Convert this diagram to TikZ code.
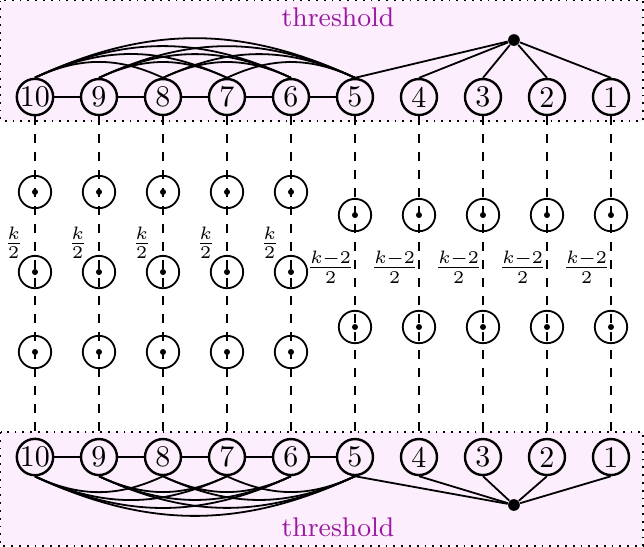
\documentclass[tikz,border=0pt]{standalone}
\usepackage{amsmath}
\usepackage{tikz}
\usetikzlibrary{positioning}

\definecolor{regionfill}{RGB}{252,238,252}
\definecolor{threshcol}{RGB}{155,25,160}

\begin{document}
\begin{tikzpicture}[
    vertex/.style={circle, draw, thick, inner sep=0pt, minimum size=12pt},
    hole/.style={circle, draw, semithick, inner sep=0pt, minimum size=10.8pt, path picture={\fill (path picture bounding box.center) circle (1pt);}},
    tdot/.style={circle, fill, inner sep=0pt, minimum size=3.9pt},
    region/.style={draw, dotted, semithick, fill=regionfill},
    link/.style={semithick},
    dline/.style={dashed, semithick},
    ttext/.style={text=threshcol, font=\small},
    lbl/.style={font=\footnotesize, inner sep=0pt}
]
\useasboundingbox (-0.41,1.137) rectangle (7.137,-5.273);

% Threshold regions
\filldraw[region] (-0.404,1.131) rectangle (7.125,-0.281);
\filldraw[region] (-0.404,-3.926) rectangle (7.125,-5.262);
\node[ttext] (toplabel) at (3.551,0.9375) {threshold};
\node[ttext] (botlabel) at (3.551,-5.039) {threshold};

% Vertices, top and bottom copies
\foreach \i in {1,...,10} {
    \node[vertex] (t\i) at ({0.75*(10-\i)},0) {\i};
    \node[vertex] (b\i) at ({0.75*(10-\i)},-4.219) {\i};
}
\node[tdot] (tth) at (5.613,0.668) {};
\node[tdot] (bth) at (5.613,-4.781) {};

% Clique on 10..5
\foreach \i in {10,9,8,7,6} {
    \pgfmathtruncatemacro{\j}{\i-1}
    \draw[link] (t\i) -- (t\j);
    \draw[link] (b\i) -- (b\j);
}
\foreach \i in {10,9,8,7} {
    \pgfmathtruncatemacro{\s}{\i-2}
    \foreach \j in {\s,...,5} {
        \draw[link] (t\i.north) to[bend left=25] (t\j.north);
        \draw[link] (b\i.south) to[bend right=25] (b\j.south);
    }
}

% Star to the threshold vertex
\foreach \i in {5,4,3,2,1} {
    \draw[link] (tth) -- (t\i.north);
    \draw[link] (bth) -- (b\i.south);
}

% Paths between the copies
\foreach \i in {10,9,8,7,6} {
    \node[hole] (h\i a) at ({0.75*(10-\i)},-1.113) {};
    \node[hole] (h\i b) at ({0.75*(10-\i)},-2.051) {};
    \node[hole] (h\i c) at ({0.75*(10-\i)},-2.988) {};
    \node[lbl] (k\i) at ({0.75*(10-\i)-0.25},-1.711) {$\frac{k}{2}$};
}
\foreach \i in {5,4,3,2,1} {
    \node[lbl] (k\i) at ({0.75*(10-\i)-0.285},-1.992) {$\frac{k-2}{2}$};
    \node[hole] (h\i a) at ({0.75*(10-\i)},-1.383) {};
    \node[hole] (h\i b) at ({0.75*(10-\i)},-2.695) {};
}
\foreach \i in {1,...,10}
    \draw[dline] (t\i.south) -- (b\i.north);

\end{tikzpicture}
\end{document}
